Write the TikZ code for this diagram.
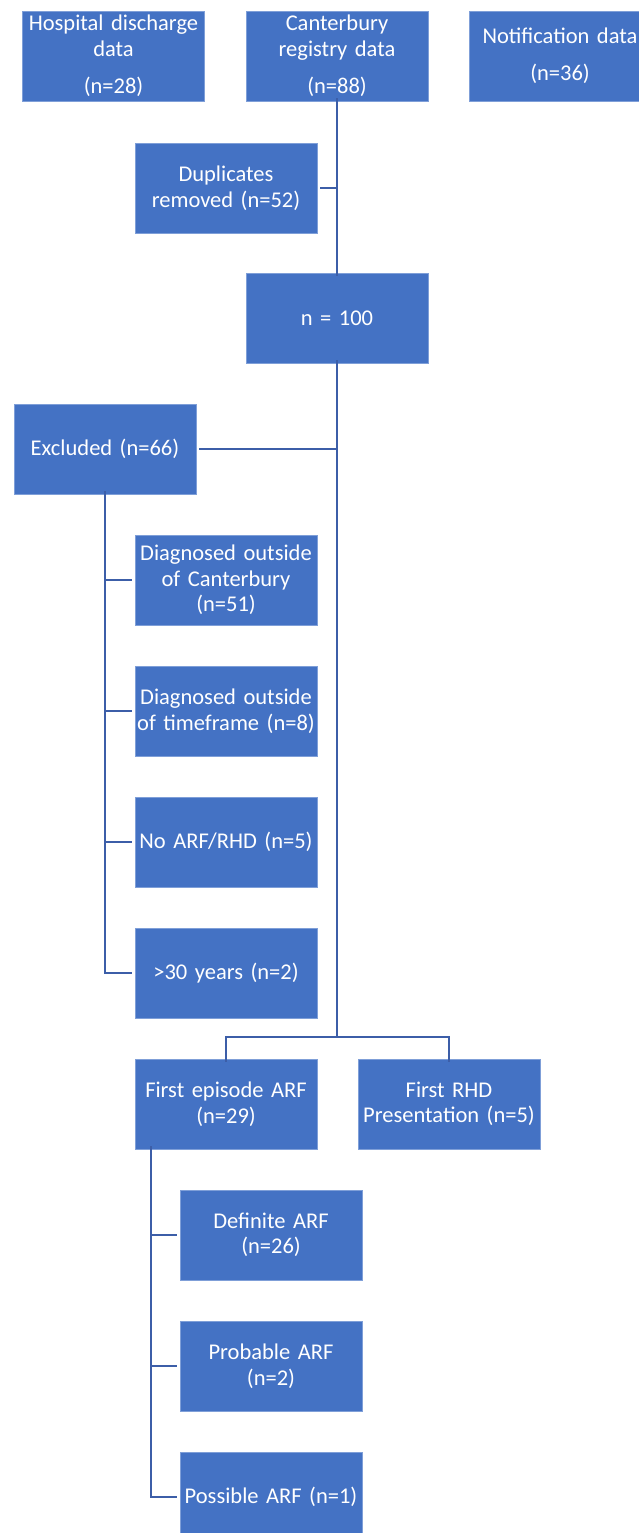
\documentclass[tikz,border=0pt]{standalone}
\usepackage{fontspec}
\setmainfont{Carlito}
\definecolor{boxfill}{HTML}{4472C4}
\definecolor{boxedge}{HTML}{7F9FD8}
\definecolor{linkcol}{HTML}{3C5EA8}
\begin{document}
\begin{tikzpicture}[x=1pt,y=-1pt,
  fbox/.style={rectangle, fill=boxfill, draw=boxedge, line width=0.8pt,
    minimum width=182pt, minimum height=90pt, text width=182pt, inner sep=0pt,
    align=center, text=white, font=\fontsize{22.5}{25.5}\selectfont},
  link/.style={draw=linkcol, line width=2.2pt}]
\useasboundingbox (0,0) rectangle (639,1533);
\fill[white] (0,0) rectangle (639,1533);

% top row
\node[fbox] (hosp) at (113.5,56) {Hospital discharge\\data\\[12pt](n=28)};
\node[fbox] (cant) at (337,56) {Canterbury\\registry data\\[12pt](n=88)};
\node[fbox] (notif) at (560,56) {Notification data\\[11pt](n=36)};

\node[fbox] (dup) at (226,188) {Duplicates\\removed (n=52)};
\node[fbox] (n100) at (337,318) {n = 100};
\node[fbox] (excl) at (105,449) {Excluded (n=66)};

\node[fbox] (dcant) at (226,580) {Diagnosed outside\\of Canterbury\\(n=51)};
\node[fbox] (dtime) at (226,711) {Diagnosed outside\\of timeframe (n=8)};
\node[fbox] (noarf) at (226,842) {No ARF/RHD (n=5)};
\node[fbox] (old) at (226,973) {>30 years (n=2)};

\node[fbox] (first) at (226,1104) {First episode ARF\\(n=29)};
\node[fbox] (rhd) at (449,1104) {First RHD\\Presentation (n=5)};

\node[fbox] (def) at (271,1235) {Definite ARF\\(n=26)};
\node[fbox] (prob) at (271,1366) {Probable ARF\\(n=2)};
\node[fbox] (poss) at (271,1497) {Possible ARF (n=1)};

% connectors
\coordinate (split) at (337,1037);
\coordinate (exclbot) at (105,973);
\coordinate (firstv) at (151,1149);
\coordinate (firstbot) at (151,1497);

\draw[link] ([yshift=3pt]cant.south) -- ([yshift=-3pt]n100.north);
\draw[link] ([xshift=3pt]dup.east) -- (dup.east -| cant.south);
\draw[link] ([yshift=3pt]n100.south) -- (split);
\draw[link] ([xshift=3pt]excl.east) -- (excl.east -| n100.south);
\draw[link] ([yshift=-3pt]first.north) |- (split) -| ([yshift=-3pt]rhd.north);

\draw[link] ([yshift=3pt]excl.south) -- (exclbot) -- ([xshift=-3pt]old.west);
\draw[link] ([xshift=-3pt]dcant.west) -- (dcant.west -| exclbot);
\draw[link] ([xshift=-3pt]dtime.west) -- (dtime.west -| exclbot);
\draw[link] ([xshift=-3pt]noarf.west) -- (noarf.west -| exclbot);

\draw[link] ([yshift=3pt]firstv) -- (firstbot) -- ([xshift=-3pt]poss.west);
\draw[link] ([xshift=-3pt]def.west) -- (def.west -| firstv);
\draw[link] ([xshift=-3pt]prob.west) -- (prob.west -| firstv);
\end{tikzpicture}
\end{document}
